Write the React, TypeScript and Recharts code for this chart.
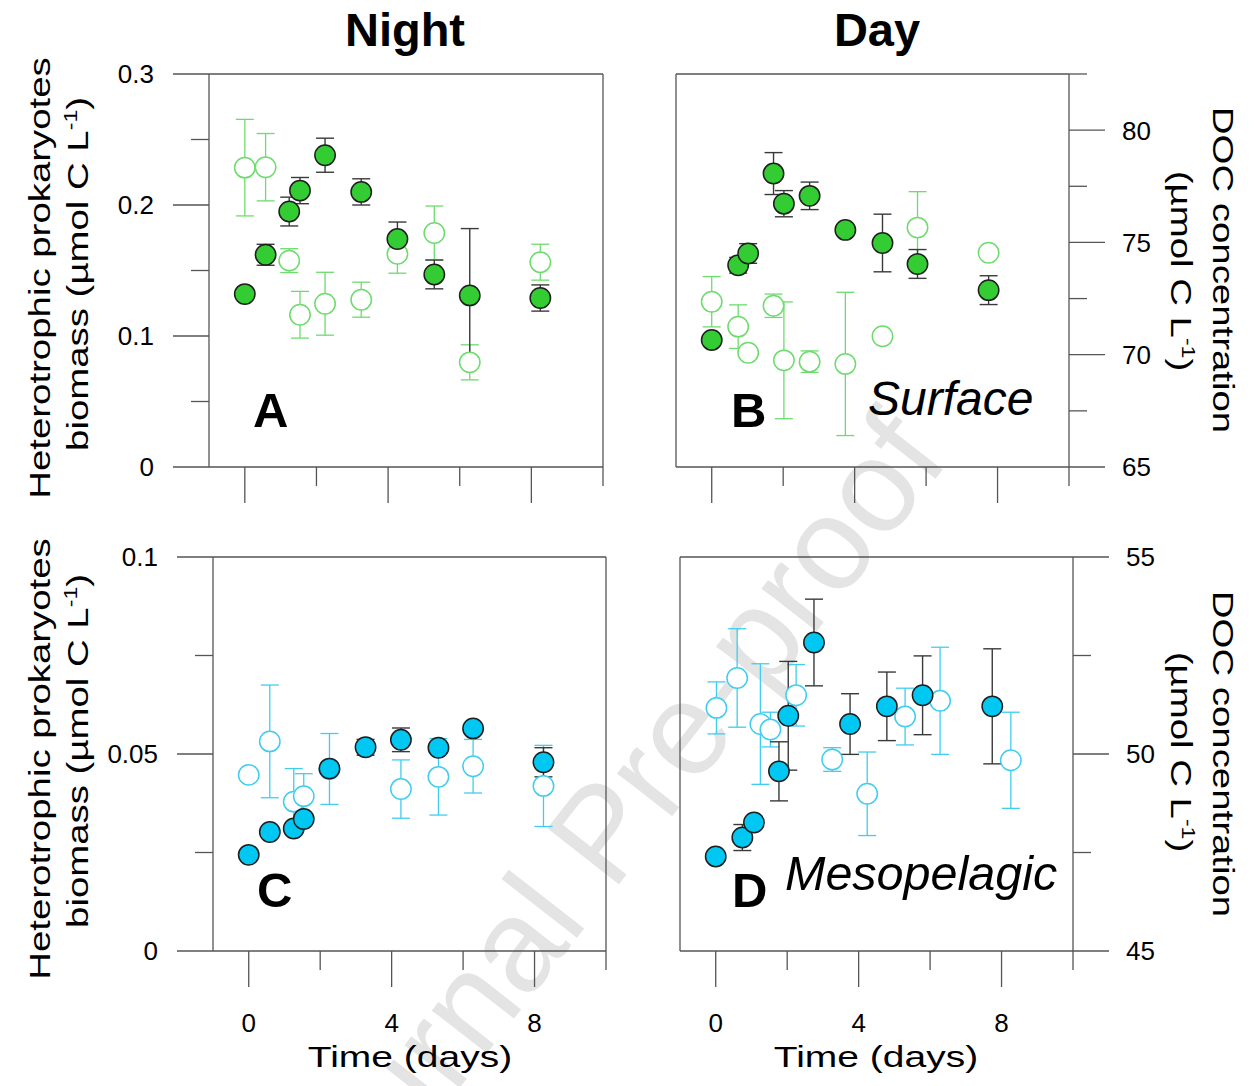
import React from 'react';
import { ScatterChart, Scatter, XAxis, YAxis, ErrorBar } from 'recharts';

// ---------- Data ----------
const timeTicks = [0, 2, 4, 6, 8, 10];
const timeLabels = ['0', '', '4', '', '8', ''];

const bioTicksSurf = [0, 0.05, 0.1, 0.15, 0.2, 0.25, 0.3];
const bioLabelsSurf = ['0', '', '0.1', '', '0.2', '', '0.3'];
const bioTicksMeso = [0, 0.025, 0.05, 0.075, 0.1];
const bioLabelsMeso = ['0', '', '0.05', '', '0.1'];
const docTicksSurf = [65, 67.5, 70, 72.5, 75, 77.5, 80, 82.5];
const docLabelsSurf = ['65', '', '70', '', '75', '', '80', ''];
const docTicksMeso = [45, 47.5, 50, 52.5, 55];
const docLabelsMeso = ['45', '', '50', '', '55'];

// A: Night, surface
const nightSurfBioTime = [0, 0.58, 1.24, 1.54, 2.24, 3.25, 4.26, 5.29, 6.28, 8.25];
const nightSurfBio = [0.132, 0.162, 0.195, 0.211, 0.238, 0.21, 0.174, 0.147, 0.131, 0.129];
const nightSurfBioErr = [0, 0.008, 0.011, 0.01, 0.013, 0.01, 0.013, 0.011, 0.051, 0.01];
const nightSurfDocTime = [0, 0.58, 1.24, 1.54, 2.24, 3.25, 4.26, 5.29, 6.28, 8.25];
const nightSurfDoc = [78.33, 78.35, 74.19, 71.78, 72.27, 72.45, 74.49, 75.42, 69.66, 74.12];
const nightSurfDocErr = [2.15, 1.5, 0.53, 1.04, 1.4, 0.78, 0.86, 1.2, 0.78, 0.8];

// B: Day, surface
const daySurfBioTime = [0, 0.74, 1.02, 1.73, 2.02, 2.74, 3.74, 4.78, 5.76, 7.75];
const daySurfBio = [0.097, 0.154, 0.163, 0.224, 0.201, 0.207, 0.181, 0.171, 0.155, 0.135];
const daySurfBioErr = [0, 0.006, 0.0075, 0.016, 0.01, 0.0105, 0, 0.022, 0.011, 0.011];
const daySurfDocTime = [0, 0.74, 1.02, 1.73, 2.02, 2.74, 3.74, 4.78, 5.76, 7.75];
const daySurfDoc = [72.36, 71.25, 70.09, 72.18, 69.75, 69.69, 69.59, 70.82, 75.66, 74.54];
const daySurfDocErr = [1.12, 0.97, 0.2, 0.52, 2.6, 0.48, 3.19, 0, 1.6, 0];

// C: Night, mesopelagic
const nightMesoBioTime = [0, 0.59, 1.26, 1.54, 2.26, 3.27, 4.26, 5.31, 6.28, 8.25];
const nightMesoBio = [0.0244, 0.0302, 0.0311, 0.0335, 0.0463, 0.0517, 0.0536, 0.0516, 0.0565, 0.0479];
const nightMesoBioErr = [0, 0, 0, 0, 0, 0.002, 0.003, 0, 0, 0.0037];
const nightMesoDocTime = [0, 0.59, 1.26, 1.54, 2.26, 4.26, 5.31, 6.28, 8.25];
const nightMesoDoc = [49.47, 50.32, 48.79, 48.93, 49.62, 49.11, 49.42, 49.69, 49.19];
const nightMesoDocErr = [0, 1.43, 0.84, 0.57, 0.9, 0.74, 0.97, 0.68, 1.03];

// D: Day, mesopelagic
const dayMesoBioTime = [0, 0.745, 1.07, 1.77, 2.03, 2.75, 3.76, 4.79, 5.79, 7.74];
const dayMesoBio = [0.024, 0.0288, 0.0326, 0.0456, 0.0597, 0.0783, 0.0576, 0.0621, 0.0649, 0.0621];
const dayMesoBioErr = [0, 0.0033, 0, 0.0075, 0.0138, 0.011, 0.0077, 0.0087, 0.01, 0.0146];
const dayMesoDocTime = [0.02, 0.6, 1.25, 1.53, 2.25, 3.26, 4.24, 5.3, 6.28, 8.26];
const dayMesoDoc = [51.17, 51.93, 50.76, 50.62, 51.49, 49.86, 48.99, 50.95, 51.35, 49.84];
const dayMesoDocErr = [0.66, 1.25, 1.53, 0.44, 0.78, 0.3, 1.06, 0.72, 1.36, 1.22];

// ---------- Helpers ----------
type Pt = { t: number; v: number; e: number };
const build = (t: number[], v: number[], e: number[]): Pt[] =>
  t.map((x, i) => ({ t: x, v: v[i], e: e[i] }));

const W = 1258;
const H = 1086;
const AXIS = '#555555';
const FONT = '"Liberation Sans", Arial, Helvetica, sans-serif';

const makeXTick = (showLabels: boolean) => (props: any) => {
  const { x, y, payload } = props;
  const i = timeTicks.indexOf(payload.value);
  const lab = timeLabels[i] ?? '';
  const major = lab !== '';
  const len = major ? 36 : 19;
  return (
    <g>
      <line x1={x} y1={y} x2={x} y2={y + len} stroke={AXIS} strokeWidth={1.3} />
      {showLabels && major && (
        <text x={x} y={y + 81} textAnchor="middle" fontSize={26} fontFamily={FONT} fill="#000">
          {lab}
        </text>
      )}
    </g>
  );
};

const makeYTick = (ticks: number[], labels: string[], side: 'left' | 'right') => (props: any) => {
  const { x, y, payload } = props;
  const i = ticks.indexOf(payload.value);
  const lab = labels[i] ?? '';
  const major = lab !== '';
  const len = major ? 36 : 18;
  const dir = side === 'left' ? -1 : 1;
  return (
    <g>
      <line x1={x} y1={y} x2={x + dir * len} y2={y} stroke={AXIS} strokeWidth={1.3} />
      {major && (
        <text
          x={x + dir * (len + (side === 'left' ? 19 : 17))}
          y={y}
          dy="0.36em"
          textAnchor={side === 'left' ? 'end' : 'start'}
          fontSize={26}
          fontFamily={FONT}
          fill="#000"
        >
          {lab}
        </text>
      )}
    </g>
  );
};

const filledShape = (fill: string) => (p: any) => (
  <circle cx={p.cx} cy={p.cy} r={10.2} fill={fill} stroke="#1e1e1e" strokeWidth={1.5} />
);
const openShape = (stroke: string) => (p: any) => (
  <circle cx={p.cx} cy={p.cy} r={10.2} fill="#ffffff" stroke={stroke} strokeWidth={1.5} />
);

type PanelProps = {
  left: number;
  right: number;
  top: number;
  bottom: number;
  bio: Pt[];
  doc: Pt[];
  bioDomain: [number, number];
  docDomain: [number, number];
  bioTicks: number[];
  bioLabels: string[];
  docTicks: number[];
  docLabels: string[];
  showBioAxis: boolean;
  showDocAxis: boolean;
  showXLabels: boolean;
  fill: string;
  light: string;
};

function Panel(p: PanelProps) {
  return (
    <div style={{ position: 'absolute', left: 0, top: 0 }}>
      <ScatterChart
        width={W}
        height={H}
        margin={{ left: p.left - 1, right: W - p.right - 1, top: p.top - 1, bottom: H - p.bottom - 1 }}
      >
        <XAxis
          xAxisId="b"
          dataKey="t"
          type="number"
          domain={[-1, 10]}
          ticks={timeTicks}
          interval={0}
          allowDataOverflow
          height={1}
          tickSize={0}
          tickMargin={0}
          tickLine={false}
          axisLine={{ stroke: AXIS, strokeWidth: 1.3 }}
          tick={makeXTick(p.showXLabels)}
        />
        <XAxis
          xAxisId="top"
          orientation="top"
          dataKey="t"
          type="number"
          domain={[-1, 10]}
          allowDataOverflow
          height={1}
          tick={false}
          tickLine={false}
          axisLine={{ stroke: AXIS, strokeWidth: 1.3 }}
        />
        <YAxis
          yAxisId="bio"
          orientation="left"
          dataKey="v"
          type="number"
          domain={p.bioDomain}
          ticks={p.bioTicks}
          interval={0}
          allowDataOverflow
          width={1}
          tickSize={0}
          tickMargin={0}
          tickLine={false}
          axisLine={{ stroke: AXIS, strokeWidth: 1.3 }}
          tick={p.showBioAxis ? makeYTick(p.bioTicks, p.bioLabels, 'left') : false}
        />
        <YAxis
          yAxisId="doc"
          orientation="right"
          dataKey="v"
          type="number"
          domain={p.docDomain}
          ticks={p.docTicks}
          interval={0}
          allowDataOverflow
          width={1}
          tickSize={0}
          tickMargin={0}
          tickLine={false}
          axisLine={{ stroke: AXIS, strokeWidth: 1.3 }}
          tick={p.showDocAxis ? makeYTick(p.docTicks, p.docLabels, 'right') : false}
        />
        <Scatter
          data={p.doc}
          xAxisId="b"
          yAxisId="doc"
          isAnimationActive={false}
          shape={openShape(p.light)}
        >
          <ErrorBar dataKey="e" direction="y" width={9} stroke={p.light} strokeWidth={1.3} />
        </Scatter>
        <Scatter
          data={p.bio}
          xAxisId="b"
          yAxisId="bio"
          isAnimationActive={false}
          shape={filledShape(p.fill)}
        >
          <ErrorBar dataKey="e" direction="y" width={9} stroke="#3a3a3a" strokeWidth={1.4} />
        </Scatter>
      </ScatterChart>
    </div>
  );
}

function RotLabel({ x, y, rot, l1, l2base, sx }: { x: number; y: number; rot: number; l1?: string; l2base?: string; sx: number }) {
  return (
    <g transform={`translate(${x},${y}) rotate(${rot}) scale(${sx},1)`}>
      {l1 && (
        <text x={0} y={0} textAnchor="middle" fontSize={30} fontFamily={FONT} fill="#000">
          {l1}
        </text>
      )}
      {l2base && (
        <text x={0} y={0} textAnchor="middle" fontSize={30} fontFamily={FONT} fill="#000">
          {l2base}
          <tspan fontSize={18} dy={-11}>-1</tspan>
          <tspan dy={11}>)</tspan>
        </text>
      )}
    </g>
  );
}

export default function App() {
  const green = '#33cc33';
  const greenLight = '#6ddc6d';
  const cyan = '#00c8f2';
  const cyanLight = '#40cdf0';
  return (
    <div style={{ position: 'relative', width: W, height: H, background: '#fff', overflow: 'hidden' }}>
      <style>{'body{margin:0}'}</style>
      {/* watermark */}
      <svg width={W} height={H} style={{ position: 'absolute', left: 0, top: 0 }}>
        <text
          transform="translate(637,861) rotate(-52)"
          textAnchor="middle"
          fontSize={132}
          fontFamily={FONT}
          fill="#e4e4e4"
        >
          Journal Pre-proof
        </text>
      </svg>
      <Panel
        left={209} right={603} top={74} bottom={467}
        bio={build(nightSurfBioTime, nightSurfBio, nightSurfBioErr)}
        doc={build(nightSurfDocTime, nightSurfDoc, nightSurfDocErr)}
        bioDomain={[0, 0.3]} docDomain={[65, 82.5]}
        bioTicks={bioTicksSurf} bioLabels={bioLabelsSurf}
        docTicks={docTicksSurf} docLabels={docLabelsSurf}
        showBioAxis showDocAxis={false} showXLabels={false}
        fill={green} light={greenLight}
      />
      <Panel
        left={676} right={1069} top={74} bottom={467}
        bio={build(daySurfBioTime, daySurfBio, daySurfBioErr)}
        doc={build(daySurfDocTime, daySurfDoc, daySurfDocErr)}
        bioDomain={[0, 0.3]} docDomain={[65, 82.5]}
        bioTicks={bioTicksSurf} bioLabels={bioLabelsSurf}
        docTicks={docTicksSurf} docLabels={docLabelsSurf}
        showBioAxis={false} showDocAxis showXLabels={false}
        fill={green} light={greenLight}
      />
      <Panel
        left={213} right={606} top={557} bottom={951}
        bio={build(nightMesoBioTime, nightMesoBio, nightMesoBioErr)}
        doc={build(nightMesoDocTime, nightMesoDoc, nightMesoDocErr)}
        bioDomain={[0, 0.1]} docDomain={[45, 55]}
        bioTicks={bioTicksMeso} bioLabels={bioLabelsMeso}
        docTicks={docTicksMeso} docLabels={docLabelsMeso}
        showBioAxis showDocAxis={false} showXLabels
        fill={cyan} light={cyanLight}
      />
      <Panel
        left={680} right={1073} top={557} bottom={951}
        bio={build(dayMesoBioTime, dayMesoBio, dayMesoBioErr)}
        doc={build(dayMesoDocTime, dayMesoDoc, dayMesoDocErr)}
        bioDomain={[0, 0.1]} docDomain={[45, 55]}
        bioTicks={bioTicksMeso} bioLabels={bioLabelsMeso}
        docTicks={docTicksMeso} docLabels={docLabelsMeso}
        showBioAxis={false} showDocAxis showXLabels
        fill={cyan} light={cyanLight}
      />
      {/* text overlay */}
      <svg width={W} height={H} style={{ position: 'absolute', left: 0, top: 0, pointerEvents: 'none' }}>
        <text x={405} y={46} textAnchor="middle" fontSize={47} fontWeight="bold" fontFamily={FONT}>Night</text>
        <text x={877} y={46} textAnchor="middle" fontSize={47} fontWeight="bold" fontFamily={FONT}>Day</text>

        <RotLabel x={50} y={278} rot={-90} sx={1.28} l1="Heterotrophic prokaryotes" />
        <RotLabel x={88} y={274} rot={-90} sx={1.28} l2base="biomass (µmol C L" />
        <RotLabel x={50} y={759} rot={-90} sx={1.28} l1="Heterotrophic prokaryotes" />
        <RotLabel x={88} y={751} rot={-90} sx={1.28} l2base="biomass (µmol C L" />

        <RotLabel x={1213} y={270} rot={90} sx={1.28} l1="DOC concentration" />
        <RotLabel x={1171} y={271} rot={90} sx={1.28} l2base="(µmol C L" />
        <RotLabel x={1213} y={754} rot={90} sx={1.28} l1="DOC concentration" />
        <RotLabel x={1171} y={752} rot={90} sx={1.28} l2base="(µmol C L" />

        <g transform="translate(410,1067) scale(1.3,1)">
          <text x={0} y={0} textAnchor="middle" fontSize={30} fontFamily={FONT}>Time (days)</text>
        </g>
        <g transform="translate(876,1067) scale(1.3,1)">
          <text x={0} y={0} textAnchor="middle" fontSize={30} fontFamily={FONT}>Time (days)</text>
        </g>

        <text x={253} y={427} fontSize={49} fontWeight="bold" fontFamily={FONT}>A</text>
        <text x={731} y={427} fontSize={49} fontWeight="bold" fontFamily={FONT}>B</text>
        <text x={257} y={907} fontSize={49} fontWeight="bold" fontFamily={FONT}>C</text>
        <text x={732} y={907} fontSize={49} fontWeight="bold" fontFamily={FONT}>D</text>
        <text x={868} y={415} fontSize={48} fontStyle="italic" fontFamily={FONT}>Surface</text>
        <text x={785} y={890} fontSize={48.5} fontStyle="italic" fontFamily={FONT}>Mesopelagic</text>
      </svg>
    </div>
  );
}
